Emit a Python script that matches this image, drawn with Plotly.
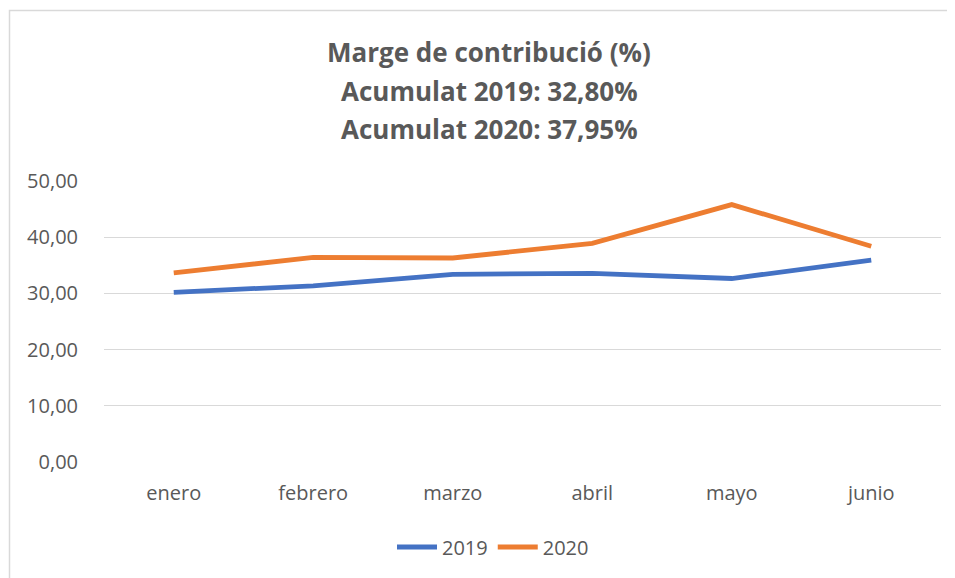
import plotly.graph_objects as go

months = ["enero", "febrero", "marzo", "abril", "mayo", "junio"]
v2019 = [30.2, 31.35, 33.4, 33.55, 32.65, 35.9]
v2020 = [33.65, 36.4, 36.3, 38.9, 45.8, 38.4]
series_names = ["2019", "2020"]
title_lines = ["Marge de contribució (%)", "Acumulat 2019: 32,80%", "Acumulat 2020: 37,95%"]
y_ticks = [0, 10, 20, 30, 40, 50]

OFF = 8  # page body margin offset
W, H = 955 - OFF, 578 - OFF
L, R, T, B = 104 - OFF, 14, 181 - OFF, 116
pw, ph = W - L - R, H - T - B

def px_x(p):
    return (p - OFF - L) / pw

def px_y(p):
    return (H - B - (p - OFF)) / ph

colors = ["#4472C4", "#ED7D31"]
fig = go.Figure()
for name, vals, c in zip(series_names, [v2019, v2020], colors):
    fig.add_trace(go.Scatter(x=months, y=vals, name=name, mode="lines",
                             line=dict(color=c, width=4.8, shape="linear")))

font_fam = "'Open Sans', sans-serif"
gray = "#595959"

fig.update_layout(
    width=W, height=H,
    margin=dict(l=L, r=R, t=T, b=B),
    paper_bgcolor="white", plot_bgcolor="white",
    separators=",.",
    font=dict(family=font_fam, color=gray, size=20),
    xaxis=dict(showgrid=False, showline=False, ticks="", tickfont=dict(size=20, color=gray),
               range=[-0.5, 5.5], ticklabelstandoff=17),
    yaxis=dict(range=[0, 50], tickvals=y_ticks, tickformat=".2f", showgrid=True,
               gridcolor="#D9D9D9", gridwidth=1.3, zeroline=False, showline=False,
               ticks="", ticklabelstandoff=25, tickfont=dict(size=20, color=gray)),
    legend=dict(orientation="h", x=px_x(493), xanchor="center", y=px_y(547), yanchor="middle",
                font=dict(size=20, color=gray), itemwidth=40),
    showlegend=True,
)

for i, (line, yp) in enumerate(zip(title_lines, [52, 91, 129])):
    fig.add_annotation(text="<b>%s</b>" % line, xref="paper", yref="paper",
                       x=px_x(489), y=px_y(yp), xanchor="center", yanchor="middle",
                       showarrow=False, font=dict(size=26, color=gray, family=font_fam))

fig.add_shape(type="rect", xref="paper", yref="paper",
              x0=px_x(9.5), x1=px_x(955 + 20), y0=px_y(578 + 20), y1=px_y(10.5),
              line=dict(color="#D9D9D9", width=1.5), fillcolor="rgba(0,0,0,0)", layer="below")

fig.write_html("out.html")
